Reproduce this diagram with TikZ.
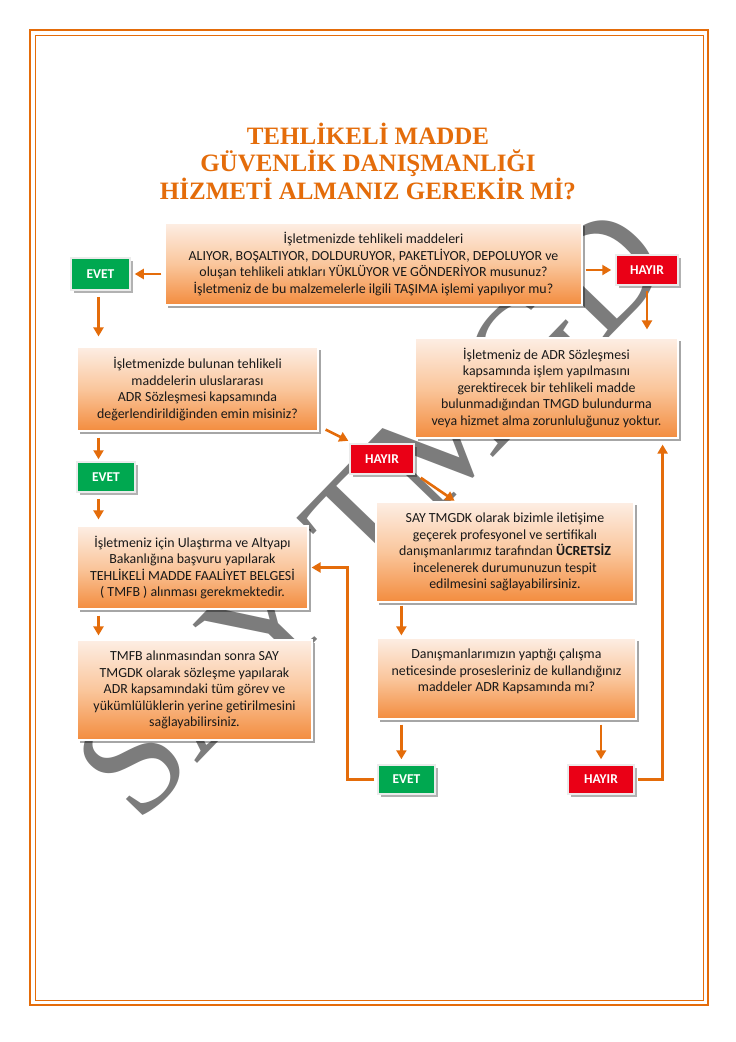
\documentclass[tikz,border=0pt]{standalone}
\usepackage{fontspec}
\setmainfont{Carlito}
\newfontfamily\titlefont{Liberation Serif}
\usetikzlibrary{arrows.meta,shadows,calc}
\definecolor{orn}{RGB}{228,108,10}
\definecolor{boxtop}{RGB}{253,238,228}
\definecolor{boxmid}{RGB}{250,198,156}
\definecolor{boxbot}{RGB}{243,140,62}
\definecolor{evetg}{RGB}{0,168,80}
\definecolor{hayirr}{RGB}{234,0,22}
\definecolor{wmgray}{RGB}{110,110,110}
\tikzset{
  qbox/.style={draw=white, line width=1.2pt, top color=boxtop, bottom color=boxbot, middle color=boxmid,
    align=center, text=black!90, font=\fontsize{13.9}{16.5}\selectfont, inner sep=0pt,
    drop shadow={shadow xshift=3pt, shadow yshift=-3pt, opacity=0.35, fill=black}},
  btn/.style={draw=white!92!black, line width=1.5pt, text=white, font=\bfseries\fontsize{13.5}{15}\selectfont,
    inner sep=0pt, minimum height=30pt,
    drop shadow={shadow xshift=2.5pt, shadow yshift=-2.5pt, opacity=0.3, fill=black}},
  evetbtn/.style={btn, fill=evetg},
  hayirbtn/.style={btn, fill=hayirr},
  conn/.style={draw=orn, line width=2.6pt, -{Triangle[length=9pt,width=10pt]}, shorten <=3pt, shorten >=4pt},
}
\begin{document}
\begin{tikzpicture}[x=1pt,y=-1pt]
\useasboundingbox (0,0) rectangle (736,1042);
\fill[white] (0,0) rectangle (736,1042);
% page border
\draw[orn, line width=2.4pt] (30,30) rectangle (708,1005);
\draw[orn, line width=1pt] (35,35) rectangle (703,1000);
% watermark
\node[rotate=46, text=wmgray, opacity=0.9, font=\titlefont\fontsize{152}{152}\selectfont] (wm) at (372,512) {SAY TMGD};
% title
\node[font=\titlefont\bfseries\fontsize{25}{27.5}\selectfont, text=orn, align=center] (title) at (368,161)
  {TEHLİKELİ MADDE\\GÜVENLİK DANIŞMANLIĞI\\HİZMETİ ALMANIZ GEREKİR Mİ?};
% boxes
\node[qbox, minimum width=417pt, minimum height=82pt] (Q1) at (373.5,264)
  {İşletmenizde tehlikeli maddeleri\\ALIYOR, BOŞALTIYOR, DOLDURUYOR, PAKETLİYOR, DEPOLUYOR ve\\oluşan tehlikeli atıkları YÜKLÜYOR VE GÖNDERİYOR musunuz?\\İşletmeniz de bu malzemelerle ilgili TAŞIMA işlemi yapılıyor mu?};
\node[evetbtn, minimum width=59pt, minimum height=32pt] (E1) at (100.5,274) {EVET};
\node[hayirbtn, minimum width=62pt] (H1) at (647,270) {HAYIR};
\node[qbox, minimum width=263pt, minimum height=100pt] (R1) at (546.5,388)
  {İşletmeniz de ADR Sözleşmesi\\kapsamında işlem yapılmasını\\gerektirecek bir tehlikeli madde\\bulunmadığından TMGD bulundurma\\veya hizmet alma zorunluluğunuz yoktur.};
\node[qbox, minimum width=241pt, minimum height=84pt] (L2) at (197.5,389)
  {İşletmenizde bulunan tehlikeli\\maddelerin uluslararası\\ADR Sözleşmesi kapsamında\\değerlendirildiğinden emin misiniz?};
\node[hayirbtn, minimum width=64pt] (H2) at (382,459) {HAYIR};
\node[evetbtn, minimum width=58pt] (E2) at (106,477) {EVET};
\node[qbox, minimum width=231pt, minimum height=83pt] (L3) at (192.5,567.5)
  {İşletmeniz için Ulaştırma ve Altyapı\\Bakanlığına başvuru yapılarak\\TEHLİKELİ MADDE FAALİYET BELGESİ\\( TMFB ) alınması gerekmektedir.};
\node[qbox, minimum width=258pt, minimum height=100pt] (S) at (505,552)
  {SAY TMGDK olarak bizimle iletişime\\geçerek profesyonel ve sertifikalı\\danışmanlarımız tarafından \textbf{ÜCRETSİZ}\\incelenerek durumunuzun tespit\\edilmesini sağlayabilirsiniz.};
\node[qbox, minimum width=235pt, minimum height=100pt] (L4) at (194.5,690)
  {TMFB alınmasından sonra SAY\\TMGDK olarak sözleşme yapılarak\\ADR kapsamındaki tüm görev ve\\yükümlülüklerin yerine getirilmesini\\sağlayabilirsiniz.};
\node[qbox, minimum width=259pt, minimum height=81pt] (D) at (506.5,678.5)
  {Danışmanlarımızın yaptığı çalışma\\neticesinde prosesleriniz de kullandığınız\\maddeler ADR Kapsamında mı?\\\mbox{}};
\node[evetbtn, minimum width=57pt, minimum height=29pt] (E3) at (406.5,779.5) {EVET};
\node[hayirbtn, minimum width=66pt, minimum height=29pt] (H3) at (601,779.5) {HAYIR};
% connectors
\draw[conn] (Q1.west |- E1) -- (E1.east);
\draw[conn] (Q1.east |- H1) -- (H1.west);
\draw[conn, shorten <=6pt, shorten >=10pt] ([xshift=-2pt]E1.south) -- ([xshift=-2pt]E1.south |- L2.north);
\draw[conn, shorten <=5pt, shorten >=8pt] (H1.south) -- (H1.south |- R1.north);
\draw[conn, shorten <=6pt, shorten >=2pt] ([xshift=-2pt]E1.south |- L2.south) -- ([xshift=-2pt]E1.south |- E2.north);
\draw[conn, shorten <=6pt, shorten >=6pt] ([xshift=-2pt]E1.south |- E2.south) -- ([xshift=-2pt]E1.south |- L3.north);
\draw[conn, shorten <=6pt, shorten >=4pt] ([xshift=-2pt]E1.south |- L3.south) -- ([xshift=-2pt]E1.south |- L4.north);
\draw[conn, shorten <=0pt, shorten >=1pt] ([shift={(7,-2)}]L2.south east) -- ([shift={(0,-2)}]H2.north west);
\draw[conn, shorten <=0pt, shorten >=1pt] ([shift={(6,3)}]H2.south east) -- ([xshift=80pt]S.north west);
\draw[conn, shorten >=2pt] ([xshift=26pt]S.south west) -- ([xshift=26pt]S.south west |- D.north);
\draw[conn, shorten <=5pt, shorten >=5pt] ([xshift=25pt]D.south west) -- ([xshift=25pt]D.south west |- E3.north);
\draw[conn, shorten <=5pt, shorten >=5pt] (H3 |- D.south) -- (H3.north);
\draw[conn, shorten >=3pt] (E3.west) -- ++(-30,0) |- (L3.east);
\draw[conn, shorten >=6pt] (H3.east) -| ([xshift=-16pt]R1.south east);
\end{tikzpicture}
\end{document}
